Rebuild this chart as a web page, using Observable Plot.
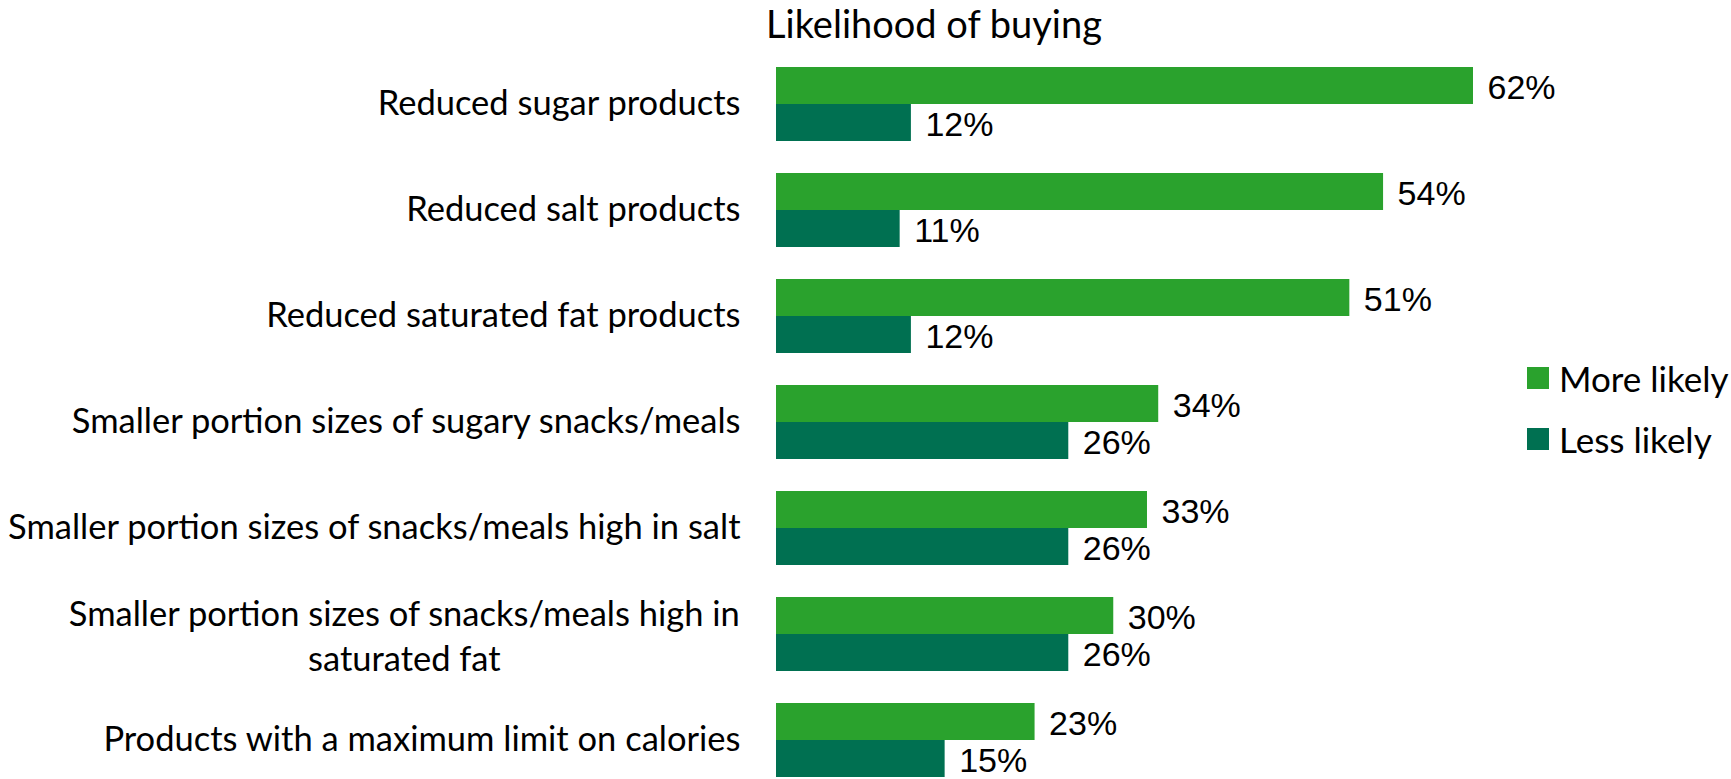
<!DOCTYPE html>
<html>
<head>
<meta charset="utf-8">
<script src="https://cdn.jsdelivr.net/npm/d3@7"></script>
<script src="https://cdn.jsdelivr.net/npm/@observablehq/plot@0.6"></script>
<style>
  html, body { margin: 0; padding: 0; background: #fff; overflow: hidden; }
  #wrap { position: relative; width: 1731px; height: 779px; }
  #chart { position: absolute; left: 0; top: 0; }
  #title { position: absolute; left: 766px; top: 0px; font-family: Lato, sans-serif; font-size: 38px; line-height: normal; color: #000; white-space: nowrap; }
  .leg { position: absolute; left: 1527px; font-family: Lato, sans-serif; font-size: 35px; line-height: 40px; color: #000; white-space: nowrap; display: flex; align-items: center; }
  .sw { width: 22px; height: 22px; margin-right: 10px; }
</style>
</head>
<body>
<div id="wrap">
  <div id="chart"></div>
  <div id="title">Likelihood of buying</div>
  <div id="legend"></div>
</div>
<script>
const categories = [
  "Reduced sugar products",
  "Reduced salt products",
  "Reduced saturated fat products",
  "Smaller portion sizes of sugary snacks/meals",
  "Smaller portion sizes of snacks/meals high in salt",
  "Smaller portion sizes of snacks/meals high in\nsaturated fat",
  "Products with a maximum limit on calories"
];
const series = ["More likely", "Less likely"];
const moreLikely = [62, 54, 51, 34, 33, 30, 23];
const lessLikely = [12, 11, 12, 26, 26, 26, 15];
const colors = ["#2aa22d", "#007051"];

const rows = [];
categories.forEach((c, i) => {
  rows.push({category: c, series: series[0], value: moreLikely[i]});
  rows.push({category: c, series: series[1], value: lessLikely[i]});
});

const labelFont = "Lato, sans-serif";
const labelSize = 34.5;
const ctx = document.createElement("canvas").getContext("2d");
ctx.font = labelSize + "px Lato";
const multi = categories.filter(c => c.includes("\n"));
const single = categories.filter(c => !c.includes("\n"));
const multiWidth = multi.length ? d3.max(multi[0].split("\n"), s => ctx.measureText(s).width) : 0;

const plot = Plot.plot({
  width: 1731,
  height: 780,
  marginTop: 65,
  marginBottom: 0,
  marginLeft: 776,
  marginRight: 258,
  x: {domain: [0, d3.max(moreLikely)], axis: null},
  y: {domain: series, padding: 0, axis: null},
  fy: {domain: categories, paddingInner: 0.3, paddingOuter: 0, axis: null},
  color: {domain: series, range: colors},
  marks: [
    Plot.barX(rows, {x: "value", y: "series", fy: "category", fill: "series"}),
    Plot.text(rows, {x: "value", y: "series", fy: "category", text: d => d.value + "%",
      textAnchor: "start", dx: 14, dy: 2.5, fontSize: 34, fontFamily: "Liberation Sans, Arial, sans-serif", fill: "#000"}),
    Plot.text(single, {fy: d => d, text: d => d, frameAnchor: "left", textAnchor: "end", dx: -36, dy: -1,
      fontSize: labelSize, fontFamily: labelFont, fill: "#000"}),
    Plot.text(multi, {fy: d => d, text: d => d, frameAnchor: "left", textAnchor: "middle", dx: -36 - multiWidth / 2,
      fontSize: labelSize, fontFamily: labelFont, lineHeight: 1.3, fill: "#000"})
  ]
});
document.getElementById("chart").appendChild(plot);

const legend = document.getElementById("legend");
const legendTops = [358, 419];
series.forEach((s, i) => {
  const el = document.createElement("div");
  el.className = "leg";
  el.style.top = legendTops[i] + "px";
  const sw = document.createElement("div");
  sw.className = "sw";
  sw.style.background = colors[i];
  el.appendChild(sw);
  el.appendChild(document.createTextNode(s));
  legend.appendChild(el);
});
</script>
</body>
</html>
